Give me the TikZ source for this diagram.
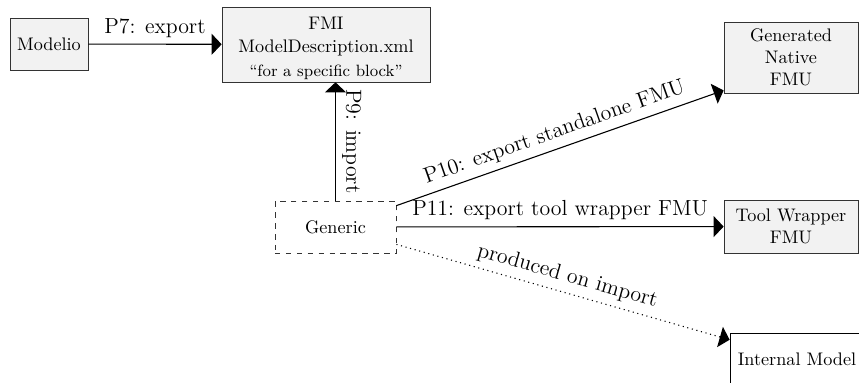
\documentclass[tikz,border=0pt]{standalone}
\usetikzlibrary{arrows.meta}
\begin{document}
\begin{tikzpicture}[x=0.55pt, y=-0.55pt,
  box/.style={draw=black!80, fill=black!5, align=center, inner sep=2pt},
  genbox/.style={draw=black!80, dashed, align=center, inner sep=2pt},
  flow/.style={semithick, -{Triangle[length=5.5pt, width=11.5pt]}},
  lbl/.style={font=\large}]
  \useasboundingbox (0,0) rectangle (859,383);
  \clip (0,0) rectangle (859,383);

  % tools and artefacts
  \node[box, minimum width=42.9pt, minimum height=28.6pt] (modelio) at (49,44) {Modelio};
  \node[box, minimum width=114.4pt, minimum height=41.2pt] (fmi) at (326,44.5) {};
  \node[align=center, inner sep=0pt] (fmitext) at ([yshift=-2.2pt]fmi.center)
    {FMI\\[0.5pt]ModelDescription.xml\\[1pt]{\small ``for a specific block''}};
  \node[genbox, minimum width=66.6pt, minimum height=28.6pt] (generic) at (335.5,227) {Generic};
  \node[box, minimum width=73.7pt, minimum height=39pt] (native) at (791,57.5)
    {Generated\\Native\\FMU};
  \node[box, minimum width=73.7pt, minimum height=29.2pt] (wrapper) at (791,226.5)
    {Tool Wrapper\\FMU};
  \node[draw=black, fill=white, minimum width=73.7pt, minimum height=28.6pt] (internal) at (797,359)
    {Internal Model};
  \coordinate (nativein) at ([yshift=1.6pt]native.south west);

  % process steps
  \draw[flow] (modelio) -- node[lbl, above] {P7: export} (fmi);
  \draw[flow, {Triangle[length=5.5pt, width=11.5pt]}-] (fmi.south -| generic.north) --
    node[lbl, sloped, above] {P9: import} (generic.north);
  \draw[flow] (generic) -- node[lbl, sloped, above] {P10: export standalone FMU} (nativein);
  \draw[flow] (generic) -- node[lbl, above] {P11: export tool wrapper FMU} (wrapper);
  \draw[flow, semithick, dotted] (generic) -- node[lbl, sloped, above] {produced on import} (internal);
\end{tikzpicture}
\end{document}
